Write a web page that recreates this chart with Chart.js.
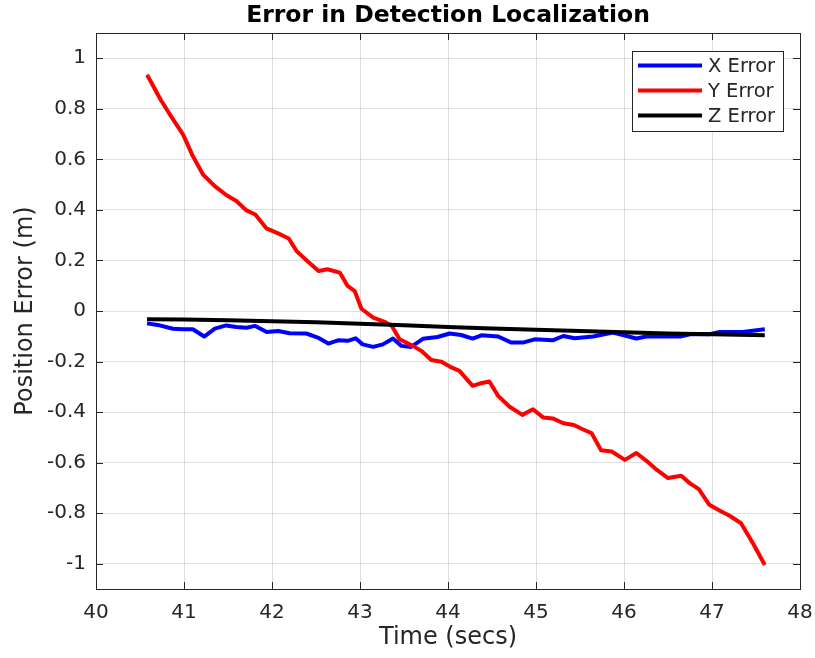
<!DOCTYPE html>
<html>
<head>
<meta charset="utf-8">
<script src="https://cdn.jsdelivr.net/npm/chart.js@4/dist/chart.umd.min.js"></script>
<style>
  html, body { margin: 0; padding: 0; background: #fff; }
  #wrap { width: 815px; height: 658px; }
</style>
</head>
<body>
<div id="wrap"><canvas id="chart" width="815" height="658"></canvas></div>
<script>
// values
const xErrTime = [40.58, 40.70, 40.875, 40.99, 41.10, 41.23, 41.35, 41.48, 41.595, 41.71, 41.81, 41.94, 42.07, 42.20, 42.39, 42.52, 42.64, 42.75, 42.86, 42.95, 43.03, 43.15, 43.26, 43.375, 43.47, 43.58, 43.715, 43.88, 44.02, 44.15, 44.28, 44.38, 44.57, 44.72, 44.85, 44.985, 45.19, 45.31, 45.44, 45.65, 45.875, 46.03, 46.14, 46.255, 46.64, 46.75, 46.97, 47.09, 47.35, 47.60];
const xErrVal = [-0.049, -0.055, -0.070, -0.072, -0.072, -0.101, -0.070, -0.057, -0.063, -0.066, -0.059, -0.083, -0.079, -0.088, -0.089, -0.105, -0.129, -0.116, -0.118, -0.108, -0.132, -0.142, -0.132, -0.109, -0.138, -0.142, -0.110, -0.103, -0.089, -0.095, -0.109, -0.096, -0.101, -0.125, -0.125, -0.112, -0.116, -0.099, -0.108, -0.101, -0.085, -0.099, -0.109, -0.101, -0.101, -0.092, -0.092, -0.083, -0.083, -0.072];

const yErrTime = [40.58, 40.735, 40.857, 40.99, 41.10, 41.216, 41.35, 41.48, 41.595, 41.71, 41.81, 41.936, 42.07, 42.19, 42.28, 42.41, 42.53, 42.63, 42.77, 42.86, 42.94, 43.016, 43.15, 43.28, 43.36, 43.45, 43.60, 43.70, 43.81, 43.925, 44.02, 44.13, 44.28, 44.36, 44.47, 44.57, 44.70, 44.845, 44.966, 45.08, 45.19, 45.31, 45.43, 45.53, 45.63, 45.74, 45.86, 46.01, 46.14, 46.255, 46.37, 46.50, 46.65, 46.75, 46.85, 46.97, 47.09, 47.20, 47.33, 47.47, 47.60];
const yErrVal = [0.935, 0.836, 0.768, 0.698, 0.613, 0.540, 0.494, 0.459, 0.435, 0.398, 0.382, 0.327, 0.307, 0.287, 0.237, 0.195, 0.158, 0.165, 0.152, 0.099, 0.079, 0.009, -0.026, -0.043, -0.058, -0.112, -0.138, -0.158, -0.194, -0.201, -0.220, -0.237, -0.296, -0.287, -0.279, -0.336, -0.379, -0.411, -0.389, -0.421, -0.425, -0.444, -0.451, -0.468, -0.483, -0.551, -0.556, -0.589, -0.562, -0.593, -0.628, -0.661, -0.652, -0.682, -0.705, -0.767, -0.790, -0.810, -0.840, -0.922, -1.005];

const zErrTime = [40.58, 41.0, 41.5, 42.0, 42.5, 43.0, 43.5, 44.0, 44.5, 45.0, 45.5, 46.0, 46.5, 47.0, 47.6];
const zErrVal = [-0.033, -0.034, -0.037, -0.041, -0.045, -0.050, -0.056, -0.063, -0.069, -0.074, -0.079, -0.084, -0.089, -0.092, -0.096];

const xTicks = [40, 41, 42, 43, 44, 45, 46, 47, 48];
const yTicks = [-1, -0.8, -0.6, -0.4, -0.2, 0, 0.2, 0.4, 0.6, 0.8, 1];
const yTickLabels = ['-1', '-0.8', '-0.6', '-0.4', '-0.2', '0', '0.2', '0.4', '0.6', '0.8', '1'];

const seriesNames = ['X Error', 'Y Error', 'Z Error'];
const seriesColors = ['#0000ff', '#ff0000', '#000000'];

const FONT = "'DejaVu Sans', sans-serif";
const TEXT = '#262626';

const toPoints = (t, v) => t.map((x, i) => ({ x: x, y: v[i] }));

// box, inner ticks and legend like the matlab axes
const axesBox = {
    id: 'axesBox',
    afterDatasetsDraw(chart) {
        const { ctx, chartArea: a, scales } = chart;
        ctx.save();
        ctx.strokeStyle = TEXT;
        ctx.lineWidth = 1;
        ctx.beginPath();
        xTicks.forEach(v => {
            const px = Math.round(scales.x.getPixelForValue(v)) + 0.5;
            ctx.moveTo(px, a.bottom); ctx.lineTo(px, a.bottom - 7);
            ctx.moveTo(px, a.top); ctx.lineTo(px, a.top + 7);
        });
        yTicks.forEach(v => {
            const py = Math.round(scales.y.getPixelForValue(v)) + 0.5;
            ctx.moveTo(a.left, py); ctx.lineTo(a.left + 7, py);
            ctx.moveTo(a.right, py); ctx.lineTo(a.right - 7, py);
        });
        ctx.stroke();
        ctx.strokeRect(Math.round(a.left) + 0.5, Math.round(a.top) + 0.5, Math.round(a.right - a.left), Math.round(a.bottom - a.top));

        // legend
        const lx = 632, ly = 51, lw = 151, lh = 80;
        ctx.fillStyle = '#fff';
        ctx.fillRect(lx, ly, lw, lh);
        ctx.strokeRect(lx + 0.5, ly + 0.5, lw, lh);
        ctx.font = '19.5px ' + FONT;
        ctx.textBaseline = 'middle';
        ctx.textAlign = 'left';
        chart.data.datasets.forEach((ds, i) => {
            const y = 65.5 + i * 25;
            ctx.strokeStyle = ds.borderColor;
            ctx.lineWidth = 4;
            ctx.beginPath();
            ctx.moveTo(638, y); ctx.lineTo(702, y);
            ctx.stroke();
            ctx.fillStyle = TEXT;
            ctx.fillText(ds.label, 708, y + 1);
        });
        ctx.restore();
    }
};

new Chart(document.getElementById('chart'), {
    type: 'line',
    data: {
        datasets: [
            { label: seriesNames[0], data: toPoints(xErrTime, xErrVal), borderColor: seriesColors[0], order: 2 },
            { label: seriesNames[1], data: toPoints(yErrTime, yErrVal), borderColor: seriesColors[1], order: 1 },
            { label: seriesNames[2], data: toPoints(zErrTime, zErrVal), borderColor: seriesColors[2], order: 0 },
        ],
    },
    options: {
        responsive: false,
        animation: false,
        events: [],
        layout: { padding: { left: 0, right: 15, top: 0, bottom: 0 } },
        elements: {
            point: { radius: 0 },
            line: { borderWidth: 4, tension: 0, fill: false, borderJoinStyle: 'round' },
        },
        plugins: {
            legend: { display: false },
            tooltip: { enabled: false },
            title: {
                display: true,
                text: 'Error in Detection Localization',
                fullSize: false,
                color: '#000',
                font: { family: FONT, size: 23.5, weight: 'bold', lineHeight: 1.2 },
                padding: { top: 2, bottom: 2.8 },
            },
        },
        scales: {
            x: {
                type: 'linear',
                min: 40,
                max: 48,
                afterBuildTicks: (s) => { s.ticks = xTicks.map(v => ({ value: v })); },
                afterFit: (s) => { s.height = 69; s.paddingLeft = 0; s.paddingRight = 0; },
                ticks: { color: TEXT, font: { family: FONT, size: 20 }, padding: 12, maxRotation: 0, autoSkip: false },
                grid: { color: 'rgba(38,38,38,0.15)', drawTicks: false },
                border: { display: false },
                title: { display: true, text: 'Time (secs)', color: TEXT, font: { family: FONT, size: 24, lineHeight: 1.2 }, padding: { top: 0, bottom: 6 } },
            },
            y: {
                type: 'linear',
                min: -1.1,
                max: 1.1,
                afterBuildTicks: (s) => { s.ticks = yTicks.map(v => ({ value: v })); },
                afterFit: (s) => { s.width = 96; s.paddingTop = 0; s.paddingBottom = 0; },
                ticks: {
                    color: TEXT,
                    font: { family: FONT, size: 20 },
                    padding: 10,
                    autoSkip: false,
                    callback: (v) => yTickLabels[yTicks.findIndex(t => Math.abs(t - v) < 1e-9)],
                },
                grid: { color: 'rgba(38,38,38,0.15)', drawTicks: false },
                border: { display: false },
                title: { display: true, text: 'Position Error (m)', color: TEXT, font: { family: FONT, size: 24, lineHeight: 1.2 }, padding: { top: 11, bottom: 0 } },
            },
        },
    },
    plugins: [axesBox],
});
</script>
</body>
</html>
